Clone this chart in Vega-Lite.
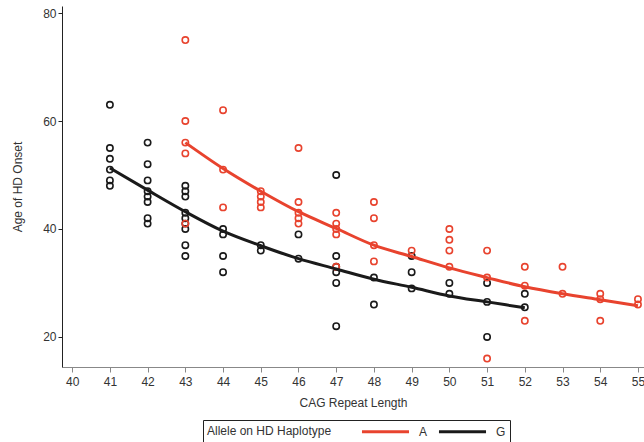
{
  "$schema": "https://vega.github.io/schema/vega-lite/v6.json",
  "width": 582,
  "height": 361,
  "autosize": {"type": "none"},
  "padding": {"left": 62, "top": 6, "right": 0, "bottom": 75},
  "background": "white",
  "config": {
    "view": {"stroke": null},
    "font": "Liberation Sans",
    "axis": {"labelFont": "Liberation Sans", "titleFont": "Liberation Sans", "labelFontSize": 12, "titleFontSize": 12, "titleFontWeight": "normal", "labelColor": "#333", "titleColor": "#333", "grid": false}
  },
  "datasets": {
    "pts": [
      {"cag": 41, "age": 63, "allele": "G"}, {"cag": 41, "age": 55, "allele": "G"}, {"cag": 41, "age": 53, "allele": "G"}, {"cag": 41, "age": 51, "allele": "G"}, {"cag": 41, "age": 49, "allele": "G"}, {"cag": 41, "age": 48, "allele": "G"},
      {"cag": 42, "age": 56, "allele": "G"}, {"cag": 42, "age": 52, "allele": "G"}, {"cag": 42, "age": 49, "allele": "G"}, {"cag": 42, "age": 47, "allele": "G"}, {"cag": 42, "age": 46, "allele": "G"}, {"cag": 42, "age": 45, "allele": "G"}, {"cag": 42, "age": 42, "allele": "G"}, {"cag": 42, "age": 41, "allele": "G"},
      {"cag": 43, "age": 48, "allele": "G"}, {"cag": 43, "age": 47, "allele": "G"}, {"cag": 43, "age": 46, "allele": "G"}, {"cag": 43, "age": 43, "allele": "G"}, {"cag": 43, "age": 42, "allele": "G"}, {"cag": 43, "age": 41, "allele": "G"}, {"cag": 43, "age": 40, "allele": "G"}, {"cag": 43, "age": 37, "allele": "G"}, {"cag": 43, "age": 35, "allele": "G"},
      {"cag": 44, "age": 40, "allele": "G"}, {"cag": 44, "age": 39, "allele": "G"}, {"cag": 44, "age": 35, "allele": "G"}, {"cag": 44, "age": 32, "allele": "G"},
      {"cag": 45, "age": 37, "allele": "G"}, {"cag": 45, "age": 36, "allele": "G"},
      {"cag": 46, "age": 39, "allele": "G"}, {"cag": 46, "age": 34.5, "allele": "G"},
      {"cag": 47, "age": 50, "allele": "G"}, {"cag": 47, "age": 35, "allele": "G"}, {"cag": 47, "age": 33, "allele": "G"}, {"cag": 47, "age": 32, "allele": "G"}, {"cag": 47, "age": 30, "allele": "G"}, {"cag": 47, "age": 22, "allele": "G"},
      {"cag": 48, "age": 31, "allele": "G"}, {"cag": 48, "age": 26, "allele": "G"},
      {"cag": 49, "age": 35, "allele": "G"}, {"cag": 49, "age": 32, "allele": "G"}, {"cag": 49, "age": 29, "allele": "G"},
      {"cag": 50, "age": 30, "allele": "G"}, {"cag": 50, "age": 28, "allele": "G"},
      {"cag": 51, "age": 30, "allele": "G"}, {"cag": 51, "age": 26.5, "allele": "G"}, {"cag": 51, "age": 20, "allele": "G"},
      {"cag": 52, "age": 28, "allele": "G"}, {"cag": 52, "age": 25.5, "allele": "G"},
      {"cag": 43, "age": 75, "allele": "A"}, {"cag": 43, "age": 60, "allele": "A"}, {"cag": 43, "age": 56, "allele": "A"}, {"cag": 43, "age": 54, "allele": "A"}, {"cag": 43, "age": 41, "allele": "A"},
      {"cag": 44, "age": 62, "allele": "A"}, {"cag": 44, "age": 51, "allele": "A"}, {"cag": 44, "age": 44, "allele": "A"},
      {"cag": 45, "age": 47, "allele": "A"}, {"cag": 45, "age": 46, "allele": "A"}, {"cag": 45, "age": 45, "allele": "A"}, {"cag": 45, "age": 44, "allele": "A"},
      {"cag": 46, "age": 55, "allele": "A"}, {"cag": 46, "age": 45, "allele": "A"}, {"cag": 46, "age": 43, "allele": "A"}, {"cag": 46, "age": 42, "allele": "A"}, {"cag": 46, "age": 41, "allele": "A"},
      {"cag": 47, "age": 43, "allele": "A"}, {"cag": 47, "age": 41, "allele": "A"}, {"cag": 47, "age": 40, "allele": "A"}, {"cag": 47, "age": 39, "allele": "A"}, {"cag": 47, "age": 33, "allele": "A"},
      {"cag": 48, "age": 45, "allele": "A"}, {"cag": 48, "age": 42, "allele": "A"}, {"cag": 48, "age": 37, "allele": "A"}, {"cag": 48, "age": 34, "allele": "A"},
      {"cag": 49, "age": 36, "allele": "A"},
      {"cag": 50, "age": 40, "allele": "A"}, {"cag": 50, "age": 38, "allele": "A"}, {"cag": 50, "age": 36, "allele": "A"}, {"cag": 50, "age": 33, "allele": "A"},
      {"cag": 51, "age": 36, "allele": "A"}, {"cag": 51, "age": 31, "allele": "A"}, {"cag": 51, "age": 16, "allele": "A"},
      {"cag": 52, "age": 33, "allele": "A"}, {"cag": 52, "age": 29.5, "allele": "A"}, {"cag": 52, "age": 23, "allele": "A"},
      {"cag": 53, "age": 33, "allele": "A"}, {"cag": 53, "age": 28, "allele": "A"},
      {"cag": 54, "age": 28, "allele": "A"}, {"cag": 54, "age": 27, "allele": "A"}, {"cag": 54, "age": 23, "allele": "A"},
      {"cag": 55, "age": 27, "allele": "A"}, {"cag": 55, "age": 26, "allele": "A"}
    ],
    "fit": [
      {"cag": 43, "age": 56, "allele": "A"}, {"cag": 44, "age": 51.2, "allele": "A"}, {"cag": 45, "age": 47, "allele": "A"}, {"cag": 46, "age": 43.2, "allele": "A"}, {"cag": 47, "age": 40.1, "allele": "A"}, {"cag": 48, "age": 37, "allele": "A"}, {"cag": 49, "age": 34.9, "allele": "A"}, {"cag": 50, "age": 32.8, "allele": "A"}, {"cag": 51, "age": 31, "allele": "A"}, {"cag": 52, "age": 29.3, "allele": "A"}, {"cag": 53, "age": 28, "allele": "A"}, {"cag": 54, "age": 26.9, "allele": "A"}, {"cag": 55, "age": 25.8, "allele": "A"},
      {"cag": 41, "age": 51.3, "allele": "G"}, {"cag": 42, "age": 47.2, "allele": "G"}, {"cag": 43, "age": 43.2, "allele": "G"}, {"cag": 44, "age": 39.6, "allele": "G"}, {"cag": 45, "age": 36.9, "allele": "G"}, {"cag": 46, "age": 34.5, "allele": "G"}, {"cag": 47, "age": 32.6, "allele": "G"}, {"cag": 48, "age": 30.7, "allele": "G"}, {"cag": 49, "age": 29.2, "allele": "G"}, {"cag": 50, "age": 27.6, "allele": "G"}, {"cag": 51, "age": 26.5, "allele": "G"}, {"cag": 52, "age": 25.4, "allele": "G"}
    ]
  },
  "encoding": {
    "x": {"field": "cag", "type": "quantitative", "title": "CAG Repeat Length",
      "scale": {"domain": [39.73, 55.16], "nice": false, "zero": false},
      "axis": {"values": [40,41,42,43,44,45,46,47,48,49,50,51,52,53,54,55], "domainColor": "#888", "tickColor": "#888", "tickSize": 5, "labelPadding": 4, "titlePadding": 10}},
    "y": {"field": "age", "type": "quantitative", "title": "Age of HD Onset",
      "scale": {"domain": [14.44, 81.3], "nice": false, "zero": false},
      "axis": {"values": [20, 40, 60, 80], "domainColor": "#222", "tickColor": "#222", "tickSize": 4, "labelPadding": 2, "titlePadding": 18}},
    "color": {"field": "allele", "type": "nominal",
      "scale": {"domain": ["A", "G"], "range": ["#e8432e", "#1a1a1a"]},
      "legend": {"title": "Allele on HD Haplotype", "orient": "none", "legendX": 141, "legendY": 414, "direction": "horizontal", "titleOrient": "left", "titleFontWeight": "normal", "titleFontSize": 12, "titleFont": "Liberation Sans", "labelFont": "Liberation Sans", "labelFontSize": 12, "labelColor": "#333", "titleColor": "#333", "symbolType": "M-3.92,0H3.92", "symbolSize": 144, "symbolStrokeWidth": 3, "symbolOpacity": 1, "strokeColor": "#222", "padding": 4, "titlePadding": 46, "columnPadding": 4, "labelOffset": 26}
    }
  },
  "layer": [
    {
      "data": {"name": "pts"},
      "mark": {"type": "point", "filled": false, "size": 40, "strokeWidth": 1.6, "opacity": 1}
    },
    {
      "data": {"name": "fit"},
      "mark": {"type": "line", "strokeWidth": 3, "interpolate": "monotone"}
    }
  ]
}
